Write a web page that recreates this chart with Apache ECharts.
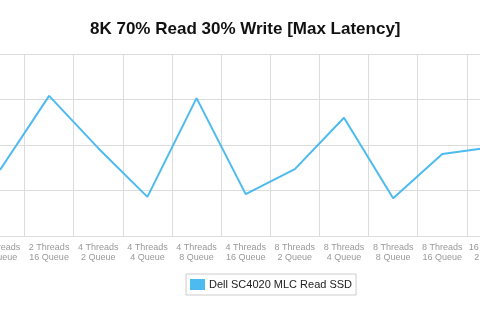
<!DOCTYPE html>
<html>
<head>
<meta charset="utf-8">
<script src="https://cdn.jsdelivr.net/npm/echarts@6/dist/echarts.min.js"></script>
<style>
html,body{margin:0;padding:0;background:#fff;overflow:hidden;width:480px;height:326px;}
#wrap{position:relative;width:480px;height:326px;overflow:hidden;}
#chart{position:absolute;left:-70px;top:0;width:620px;height:326px;}
</style>
</head>
<body>
<div id="wrap"><div id="chart"></div></div>
<script>
var titleText = '8K 70% Read 30% Write [Max Latency]';
var seriesName = 'Dell SC4020 MLC Read SSD';
var categories = [
  '2 Threads\n8 Queue', '2 Threads\n16 Queue',
  '4 Threads\n2 Queue', '4 Threads\n4 Queue', '4 Threads\n8 Queue', '4 Threads\n16 Queue',
  '8 Threads\n2 Queue', '8 Threads\n4 Queue', '8 Threads\n8 Queue', '8 Threads\n16 Queue',
  '16 Threads\n2 Queue'
];
var latency = [145, 308, 193, 86, 303, 92, 147, 260, 83, 180, 195];
var yTicks = {min: 0, max: 400, interval: 100};

var OFFSET = 70; // chart canvas is shifted left by this many px (reference view is cropped)
var chart = echarts.init(document.getElementById('chart'), null, {renderer: 'canvas'});
chart.setOption({
  animation: false,
  backgroundColor: '#ffffff',
  title: {
    text: titleText,
    left: 90 + OFFSET,
    top: 21,
    padding: 0,
    textStyle: {fontFamily: 'Liberation Sans, Arial, sans-serif', fontSize: 17, fontWeight: 'bold', color: '#111'}
  },
  legend: {
    data: [seriesName],
    left: 186 + OFFSET,
    top: 274,
    padding: [5, 4, 5, 4],
    borderColor: '#cccccc',
    borderWidth: 1,
    itemWidth: 15,
    itemHeight: 11,
    icon: 'rect',
    textStyle: {fontFamily: 'Liberation Sans, Arial, sans-serif', fontSize: 11, color: '#222', padding: [0,0,0,-1]}
  },
  grid: {left: 45.4, right: 34, top: 54, bottom: 90, containLabel: false},
  xAxis: {
    type: 'category',
    data: categories,
    boundaryGap: true,
    axisLine: {show: true, lineStyle: {color: '#dcdcdc', width: 1}},
    axisTick: {show: false},
    splitLine: {show: true, lineStyle: {color: '#dcdcdc', width: 1}},
    axisLabel: {interval: 0, fontFamily: 'Liberation Sans, Arial, sans-serif', fontSize: 9, color: '#999', lineHeight: 10.5, margin: 6}
  },
  yAxis: {
    type: 'value',
    min: yTicks.min, max: yTicks.max, interval: yTicks.interval,
    axisLine: {show: false},
    axisTick: {show: false},
    axisLabel: {show: false},
    splitLine: {show: true, lineStyle: {color: '#dcdcdc', width: 1}}
  },
  series: [{
    name: seriesName,
    type: 'line',
    data: latency,
    showSymbol: false,
    symbol: 'none',
    lineStyle: {color: '#4dbbef', width: 2},
    itemStyle: {color: '#4dbbef'}
  }]
});
</script>
</body>
</html>
